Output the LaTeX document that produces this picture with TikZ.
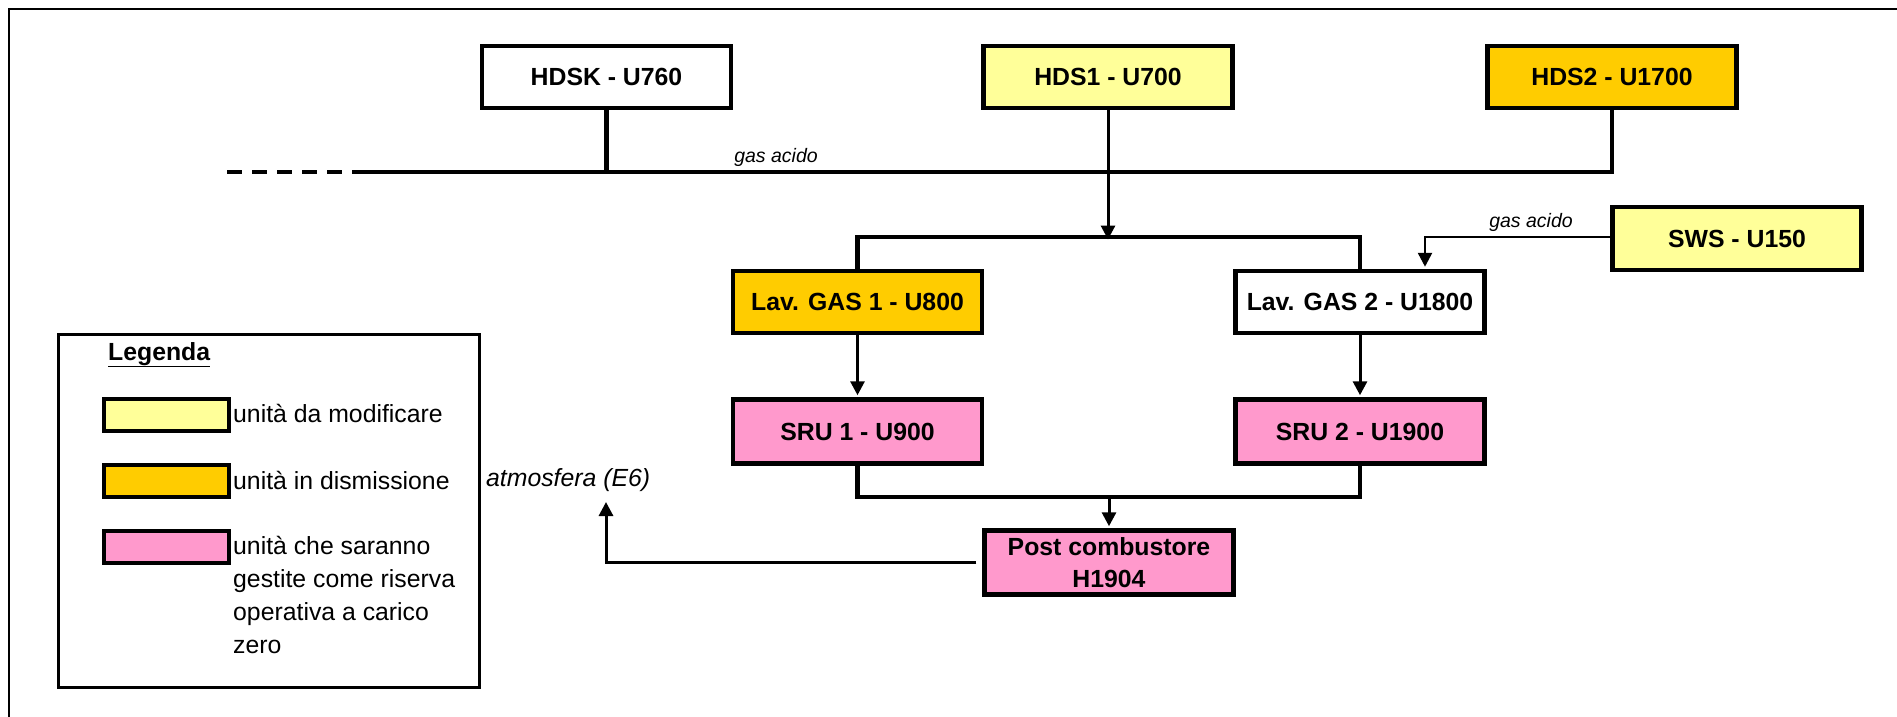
\documentclass[tikz,border=0pt]{standalone}
\usepackage{fontspec}
\setmainfont{Liberation Sans}
\usetikzlibrary{arrows.meta}
\definecolor{unitYellow}{HTML}{FFFF99}
\definecolor{unitOrange}{HTML}{FFCC00}
\definecolor{unitPink}{HTML}{FF99CC}

\begin{document}
\begin{tikzpicture}[x=1pt,y=-1pt,
  unit/.style={draw, line width=4.5pt, minimum width=249pt, minimum height=62pt,
    inner sep=0pt, align=center, font=\fontsize{24.8}{32}\selectfont\bfseries},
  tallunit/.style={unit, minimum height=64pt},
  swatch/.style={draw, line width=4pt, minimum width=125pt, minimum height=32pt, inner sep=0pt},
  legtext/.style={anchor=base west, inner sep=0pt, font=\fontsize{24.8}{30}\selectfont},
  flowlabel/.style={inner sep=0pt, font=\fontsize{19.5}{24}\selectfont\itshape},
  pipe/.style={line width=4.5pt},
  flow/.style={line width=3pt, -{Triangle[length=14pt,width=14pt]}},
  thinflow/.style={line width=2.6pt, -{Triangle[length=14pt,width=14pt]}}
]
\useasboundingbox (0,0) rectangle (1897,717);

% sheet frame
\draw[line width=2.5pt] (9,717) -- (9,9) -- (1897,9);

% process units
\node[unit]                 (hdsk) at (606.5,77)  {HDSK - U760};
\node[unit, fill=unitYellow] (hds1) at (1108,77)   {HDS1 - U700};
\node[unit, fill=unitOrange] (hds2) at (1612,77)   {HDS2 - U1700};
\node[unit, fill=unitYellow, minimum height=63pt] (sws) at (1737,238.5) {SWS - U150};
\node[unit, fill=unitOrange] (lav1) at (857.5,302) {Lav. GAS 1 - U800};
\node[unit]                 (lav2) at (1360,302)  {Lav. GAS 2 - U1800};
\node[tallunit, fill=unitPink] (sru1) at (857.5,431.5) {SRU 1 - U900};
\node[tallunit, fill=unitPink] (sru2) at (1360,431.5)  {SRU 2 - U1900};
\node[tallunit, fill=unitPink] (post) at (1109,562.5)  {Post combustore\\H1904};

% acid gas header
\coordinate (hdrstart) at (227,172);
\coordinate (hdrdash)  at (347,172);
\coordinate (hdrL)     at (352,172);
\coordinate (split)    at (1108,237);
\coordinate (swsdrop)  at (1425,237);
\coordinate (merge)    at (1109,497);
\coordinate (atm)      at (606,502);

\draw[pipe, dash pattern=on 15pt off 10pt] (hdrstart) -- (hdrdash);
\draw[pipe] (hdrL) -| (hds2.south);
\draw[pipe] (hdsk.south) -- (hdsk.south |- hdrL);
\node[flowlabel] (lblhdr) at (776,157) {gas acido};

% feed to the gas washers
\draw[flow] (hds1.south) -- ([yshift=-2.5pt]split);
\draw[pipe] (lav1.north) -- (lav1.north |- split) -- (lav2.north |- split) -- (lav2.north);
\draw[thinflow, shorten >=2pt] (sws.west |- swsdrop) -- (swsdrop) -- (swsdrop |- lav2.north);
\node[flowlabel] (lblsws) at (1531,222) {gas acido};

% washers to sulphur recovery, then to the incinerator
\draw[flow, shorten >=2pt] (lav1.south) -- (sru1.north);
\draw[flow, shorten >=2pt] (lav2.south) -- (sru2.north);
\draw[pipe] (sru1.south) |- (merge) -| (sru2.south);
\draw[flow, shorten >=2pt] (merge) -- (post.north);

% stack
\draw[flow, shorten <=6pt] (post.west) -| (atm);
\node[anchor=west, inner sep=0pt, font=\fontsize{24.8}{30}\selectfont\itshape] (lblatm) at (486,480) {atmosfera (E6)};

% legend
\node[draw, line width=3pt, minimum width=421pt, minimum height=353pt, inner sep=0pt] (legend) at (269,511) {};
\node[anchor=base west, inner sep=0pt, font=\fontsize{24.8}{30}\selectfont\bfseries] (legtitle) at (108,360) {\underline{Legenda}};
\node[swatch, fill=unitYellow] (swy) at (166.5,415)   {};
\node[swatch, fill=unitOrange] (swo) at (166.5,480.5) {};
\node[swatch, fill=unitPink]   (swp) at (166.5,546.5) {};
\node[legtext] (ly)  at (233,422) {unità da modificare};
\node[legtext] (lo)  at (233,489) {unità in dismissione};
\node[legtext] (lp1) at (233,554) {unità che saranno};
\node[legtext] (lp2) at (233,587) {gestite come riserva};
\node[legtext] (lp3) at (233,620) {operativa a carico};
\node[legtext] (lp4) at (233,653) {zero};
\end{tikzpicture}
\end{document}
